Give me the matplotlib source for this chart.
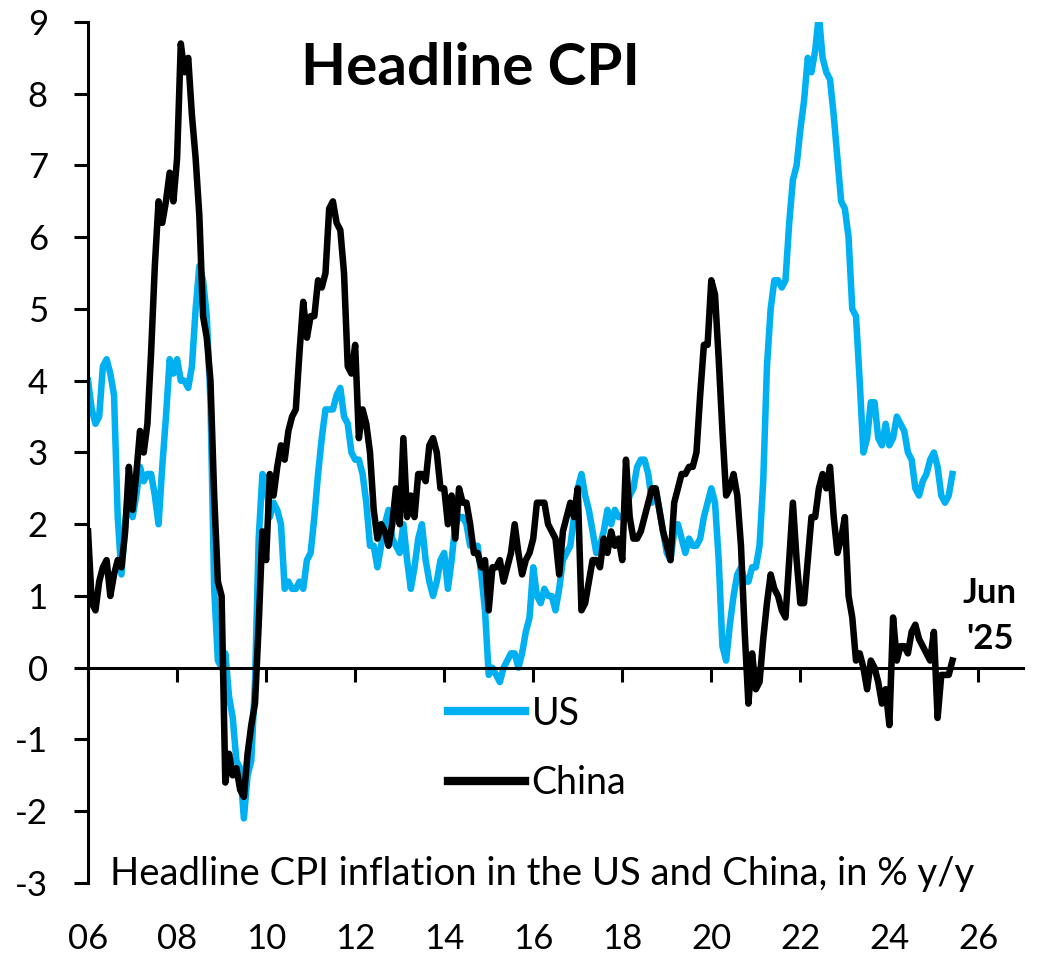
"""
Headline CPI: US vs China, % y/y
"""
import matplotlib.pyplot as plt
import numpy as np

plt.rcParams['font.family'] = ['Lato', 'DejaVu Sans']
plt.rcParams['axes.unicode_minus'] = False

# monthly, Jan 2006 - Jun 2025
us_cpi = [
    4.0, 3.6, 3.4, 3.5, 4.2, 4.3, 4.1, 3.8, 2.1, 1.3, 2.0, 2.5,  # 2006
    2.1, 2.4, 2.8, 2.6, 2.7, 2.7, 2.4, 2.0, 2.8, 3.5, 4.3, 4.1,  # 2007
    4.3, 4.0, 4.0, 3.9, 4.2, 5.0, 5.6, 5.4, 4.9, 3.7, 1.1, 0.1,  # 2008
    0.0, 0.2, -0.4, -0.7, -1.3, -1.4, -2.1, -1.5, -1.3, -0.2, 1.8, 2.7,  # 2009
    2.6, 2.1, 2.3, 2.2, 2.0, 1.1, 1.2, 1.1, 1.1, 1.2, 1.1, 1.5,  # 2010
    1.6, 2.1, 2.7, 3.2, 3.6, 3.6, 3.6, 3.8, 3.9, 3.5, 3.4, 3.0,  # 2011
    2.9, 2.9, 2.7, 2.3, 1.7, 1.7, 1.4, 1.7, 2.0, 2.2, 1.8, 1.7,  # 2012
    1.6, 2.0, 1.5, 1.1, 1.4, 1.8, 2.0, 1.5, 1.2, 1.0, 1.2, 1.5,  # 2013
    1.6, 1.1, 1.5, 2.0, 2.1, 2.1, 2.0, 1.7, 1.7, 1.7, 1.3, 0.8,  # 2014
    -0.1, 0.0, -0.1, -0.2, 0.0, 0.1, 0.2, 0.2, 0.0, 0.2, 0.5, 0.7,  # 2015
    1.4, 1.0, 0.9, 1.1, 1.0, 1.0, 0.8, 1.1, 1.5, 1.6, 1.7, 2.1,  # 2016
    2.5, 2.7, 2.4, 2.2, 1.9, 1.6, 1.7, 1.9, 2.2, 2.0, 2.2, 2.1,  # 2017
    2.1, 2.2, 2.4, 2.5, 2.8, 2.9, 2.9, 2.7, 2.3, 2.5, 2.2, 1.9,  # 2018
    1.6, 1.5, 1.9, 2.0, 1.8, 1.6, 1.8, 1.7, 1.7, 1.8, 2.1, 2.3,  # 2019
    2.5, 2.3, 1.5, 0.3, 0.1, 0.6, 1.0, 1.3, 1.4, 1.2, 1.2, 1.4,  # 2020
    1.4, 1.7, 2.6, 4.2, 5.0, 5.4, 5.4, 5.3, 5.4, 6.2, 6.8, 7.0,  # 2021
    7.5, 7.9, 8.5, 8.3, 8.6, 9.1, 8.5, 8.3, 8.2, 7.7, 7.1, 6.5,  # 2022
    6.4, 6.0, 5.0, 4.9, 4.0, 3.0, 3.2, 3.7, 3.7, 3.2, 3.1, 3.4,  # 2023
    3.1, 3.2, 3.5, 3.4, 3.3, 3.0, 2.9, 2.5, 2.4, 2.6, 2.7, 2.9,  # 2024
    3.0, 2.8, 2.4, 2.3, 2.4, 2.7,  # 2025
]

china_cpi = [
    1.9, 0.9, 0.8, 1.2, 1.4, 1.5, 1.0, 1.3, 1.5, 1.4, 1.9, 2.8,  # 2006
    2.2, 2.7, 3.3, 3.0, 3.4, 4.4, 5.6, 6.5, 6.2, 6.5, 6.9, 6.5,  # 2007
    7.1, 8.7, 8.3, 8.5, 7.7, 7.1, 6.3, 4.9, 4.6, 4.0, 2.4, 1.2,  # 2008
    1.0, -1.6, -1.2, -1.5, -1.4, -1.7, -1.8, -1.2, -0.8, -0.5, 0.6, 1.9,  # 2009
    1.5, 2.7, 2.4, 2.8, 3.1, 2.9, 3.3, 3.5, 3.6, 4.4, 5.1, 4.6,  # 2010
    4.9, 4.9, 5.4, 5.3, 5.5, 6.4, 6.5, 6.2, 6.1, 5.5, 4.2, 4.1,  # 2011
    4.5, 3.2, 3.6, 3.4, 3.0, 2.2, 1.8, 2.0, 1.9, 1.7, 2.0, 2.5,  # 2012
    2.0, 3.2, 2.1, 2.4, 2.1, 2.7, 2.7, 2.6, 3.1, 3.2, 3.0, 2.5,  # 2013
    2.5, 2.0, 2.4, 1.8, 2.5, 2.3, 2.3, 2.0, 1.6, 1.6, 1.4, 1.5,  # 2014
    0.8, 1.4, 1.4, 1.5, 1.2, 1.4, 1.6, 2.0, 1.6, 1.3, 1.5, 1.6,  # 2015
    1.8, 2.3, 2.3, 2.3, 2.0, 1.9, 1.8, 1.3, 1.9, 2.1, 2.3, 2.1,  # 2016
    2.5, 0.8, 0.9, 1.2, 1.5, 1.5, 1.4, 1.8, 1.6, 1.9, 1.7, 1.8,  # 2017
    1.5, 2.9, 2.1, 1.8, 1.8, 1.9, 2.1, 2.3, 2.5, 2.5, 2.2, 1.9,  # 2018
    1.7, 1.5, 2.3, 2.5, 2.7, 2.7, 2.8, 2.8, 3.0, 3.8, 4.5, 4.5,  # 2019
    5.4, 5.2, 4.3, 3.3, 2.4, 2.5, 2.7, 2.4, 1.7, 0.5, -0.5, 0.2,  # 2020
    -0.3, -0.2, 0.4, 0.9, 1.3, 1.1, 1.0, 0.8, 0.7, 1.5, 2.3, 1.5,  # 2021
    0.9, 0.9, 1.5, 2.1, 2.1, 2.5, 2.7, 2.5, 2.8, 2.1, 1.6, 1.8,  # 2022
    2.1, 1.0, 0.7, 0.1, 0.2, 0.0, -0.3, 0.1, 0.0, -0.2, -0.5, -0.3,  # 2023
    -0.8, 0.7, 0.1, 0.3, 0.3, 0.2, 0.5, 0.6, 0.4, 0.3, 0.2, 0.1,  # 2024
    0.5, -0.7, -0.1, -0.1, -0.1, 0.1,  # 2025
]

start_year = 2006
dates = start_year + np.arange(len(us_cpi)) / 12

year_ticks = list(range(2006, 2027, 2))
year_labels = [f"{y % 100:02d}" for y in year_ticks]
y_ticks = list(range(-3, 10))

US_BLUE = "#00B0F0"

fig = plt.figure(figsize=(10.47, 9.65), dpi=100)
ax = fig.add_axes([0.0841, 0.0850, 0.8929, 0.8922])

ax.plot(dates, us_cpi, color=US_BLUE, lw=4.7, label="US", solid_joinstyle="round")
ax.plot(dates, china_cpi, color="black", lw=4.7, label="China", solid_joinstyle="round")

ax.set_xlim(2006, 2027)
ax.set_ylim(-3, 9)

# axes: left spine + zero line with ticks
ax.spines[["top", "right"]].set_visible(False)
ax.spines["bottom"].set_position(("data", 0))
ax.spines["left"].set_linewidth(2.2)
ax.spines["bottom"].set_linewidth(2.2)

ax.set_xticks(year_ticks)
ax.tick_params(axis="x", direction="out", length=10, width=2.2, labelbottom=False)
ax.set_yticks(y_ticks)
ax.tick_params(axis="y", direction="out", length=10, width=2.2, pad=19, labelsize=25)

# year labels sit below the plot, not on the zero line
sec = ax.secondary_xaxis(0)
sec.set_xticks(year_ticks, labels=year_labels)
sec.tick_params(length=0, pad=29, labelsize=25)
for sp in sec.spines.values():
    sp.set_visible(False)

leg = ax.legend(
    loc="center left",
    bbox_to_anchor=(0.4279, 0.2244),
    bbox_transform=fig.transFigure,
    frameon=False,
    fontsize=27,
    handlelength=2.05,
    handletextpad=0.18,
    labelspacing=0.9,
    borderpad=0,
    borderaxespad=0,
)
for line in leg.get_lines():
    line.set_linewidth(6)

fig.text(0.449, 0.9119, "Headline CPI", ha="center", va="baseline",
         fontsize=42, fontweight="bold")
fig.text(0.105, 0.0829, "Headline CPI inflation in the US and China, in % y/y",
         ha="left", va="baseline", fontsize=27.5)
ax.text(2026.25, 0.72, "Jun\n'25", ha="center", va="center",
        fontsize=25, fontweight="bold", linespacing=1.55)

fig.savefig("out.png", dpi=100)
